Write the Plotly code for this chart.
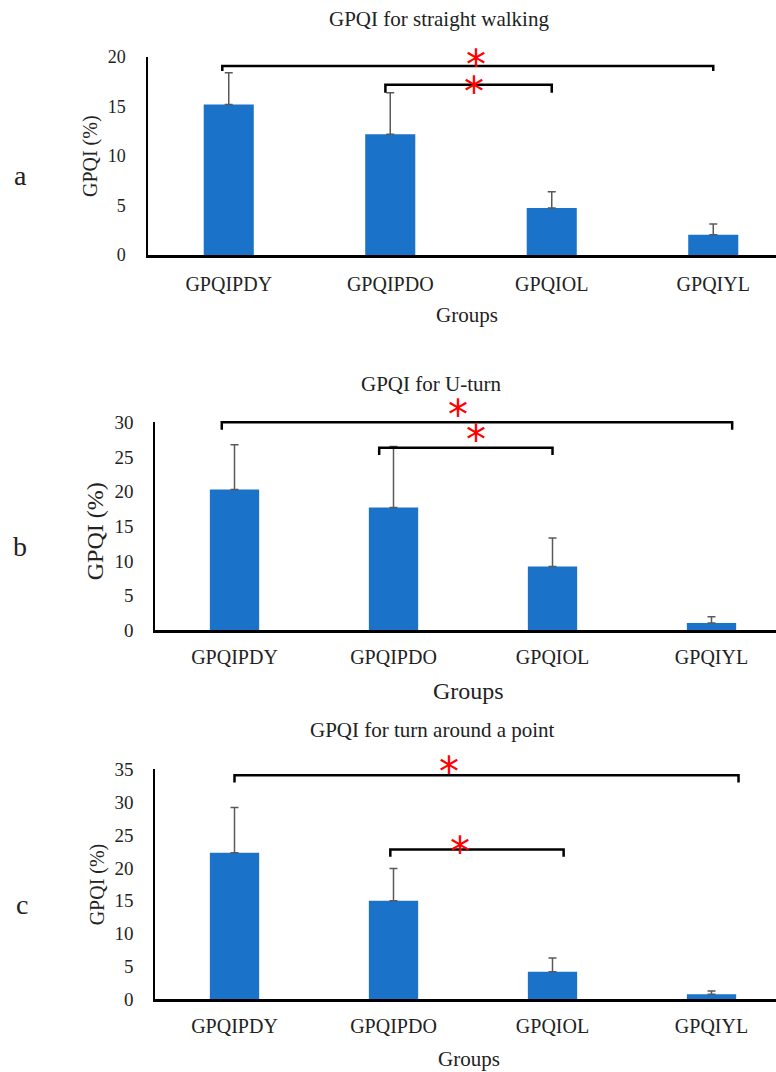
import plotly.graph_objects as go

categories = ["GPQIPDY", "GPQIPDO", "GPQIOL", "GPQIYL"]

a_mean = [15.2, 12.2, 4.75, 2.05]
a_top = [18.4, 16.4, 6.4, 3.15]
b_mean = [20.3, 17.7, 9.2, 1.05]
b_top = [26.75, 26.5, 13.3, 1.95]
c_mean = [22.3, 15.0, 4.2, 0.8]
c_top = [29.2, 19.9, 6.3, 1.27]

titles = ["GPQI for straight walking", "GPQI for U-turn", "GPQI for turn around a point"]
letters = ["a", "b", "c"]
y_max = [20, 30, 35]
y_dtick = [5, 5, 5]

# significance brackets: (x_start, x_end, y_level, y_tick_end) in data units
a_brackets = [(-0.04, 3.0, 19.1, 18.6), (0.97, 2.0, 17.2, 16.4)]
b_brackets = [(-0.08, 3.13, 30.0, 28.9), (0.91, 2.0, 26.3, 25.25)]
c_brackets = [(0.0, 3.17, 34.1, 33.0), (0.98, 2.07, 22.8, 21.7)]
# star annotation positions (x, y) in data units
a_stars = [(1.53, 20.0), (1.52, 17.3)]
b_stars = [(1.405, 32.2), (1.52, 28.6)]
c_stars = [(1.35, 35.8), (1.42, 23.6)]

W, H = 776, 1072
BAR = "#1a73c8"
ERR = "#595959"
SERIF = "Liberation Serif"
TXT = "#222222"


def vy(d):
    # page-pixel target -> figure pixel (compensates the vertical fit of the page)
    return (d - 11) / 0.98


panels = [
    dict(mean=a_mean, top=a_top, br=a_brackets, st=a_stars,
         px=(148, 161.5), py=(58, 256), title=(439, 20), letter=(20, 176),
         ytitle=(90, 157, 20), groups=(467, 316, 21), cat_sd=9, tick_sd=17,
         catfs=20, tfs=18),
    dict(mean=b_mean, top=b_top, br=b_brackets, st=b_stars,
         px=(155, 159), py=(423, 631), title=(431, 385), letter=(20, 547),
         ytitle=(95, 532, 24), groups=(469, 692, 24), cat_sd=7, tick_sd=16,
         catfs=20, tfs=19),
    dict(mean=c_mean, top=c_top, br=c_brackets, st=c_stars,
         px=(155, 159), py=(770, 1000), title=(432, 731), letter=(22, 905),
         ytitle=(97, 885, 20), groups=(469, 1060, 21), cat_sd=7, tick_sd=16,
         catfs=20, tfs=19),
]

fig = go.Figure()
layout = dict(width=W, height=H, margin=dict(l=0, r=0, t=0, b=0),
              plot_bgcolor="white", paper_bgcolor="white", showlegend=False,
              font=dict(family=SERIF, color=TXT))
annotations = []
shapes = []


def ann(text, x, y, size, family=SERIF, color=TXT, **kw):
    d = dict(text=text, xref="paper", yref="paper", x=x, y=y,
             xanchor="center", yanchor="middle", showarrow=False,
             font=dict(size=size, family=family, color=color))
    d.update(kw)
    return d


for i, p in enumerate(panels):
    k = "" if i == 0 else str(i + 1)
    xa, ya = "x" + k, "y" + k
    x0, step = p["px"]
    top_px, bot_px = vy(p["py"][0]), vy(p["py"][1])
    xr = [-0.5, -0.5 + (W - x0) / step]
    ydom = [1 - bot_px / H, 1 - top_px / H]
    xdom = [x0 / W, 1.0]

    def to_px(xv, xdom=xdom, xr=xr):
        return xdom[0] + (xv - xr[0]) / (xr[1] - xr[0]) * (xdom[1] - xdom[0])

    def to_py(yv, ydom=ydom, ymax=y_max[i]):
        return ydom[0] + yv / ymax * (ydom[1] - ydom[0])

    err_plus = [t - m for t, m in zip(p["top"], p["mean"])]
    fig.add_trace(go.Bar(
        x=list(range(len(categories))), y=p["mean"], width=0.31,
        marker=dict(color=BAR, line=dict(width=0)),
        error_y=dict(type="data", symmetric=False, array=err_plus,
                     arrayminus=[0] * 4, color=ERR, thickness=1.5, width=4),
        xaxis=xa, yaxis=ya))
    layout["xaxis" + k] = dict(
        domain=xdom, range=xr, anchor=ya,
        tickvals=list(range(len(categories))), ticktext=categories,
        showgrid=False, zeroline=False, showline=True, linecolor="black",
        linewidth=2.5, ticks="", ticklabelstandoff=p["cat_sd"],
        tickfont=dict(family=SERIF, size=p["catfs"], color=TXT))
    layout["yaxis" + k] = dict(
        domain=ydom, range=[0, y_max[i]],
        dtick=y_dtick[i], anchor=xa, showgrid=False, zeroline=False,
        showline=True, linecolor="black", linewidth=1.5, ticks="",
        ticklabelstandoff=p["tick_sd"],
        tickfont=dict(family=SERIF, size=p["tfs"], color=TXT))
    tx, ty = p["title"]
    annotations.append(ann(titles[i], tx / W, 1 - vy(ty) / H, 21))
    ytx, yty, yfs = p["ytitle"]
    annotations.append(ann("GPQI (%)", ytx / W, 1 - vy(yty) / H, yfs, textangle=-90))
    gx, gy, gfs = p["groups"]
    annotations.append(ann("Groups", gx / W, 1 - vy(gy) / H, gfs))
    lx, ly = p["letter"]
    annotations.append(ann(letters[i], lx / W, 1 - vy(ly) / H, 28))
    for (bx0, bx1, by, byt) in p["br"]:
        X0, X1, Y, YT = to_px(bx0), to_px(bx1), to_py(by), to_py(byt)
        shapes.append(dict(type="path", xref="paper", yref="paper",
                           path=f"M {X0},{YT} L {X0},{Y} L {X1},{Y} L {X1},{YT}",
                           line=dict(color="black", width=2.5)))
    for (sx, sy) in p["st"]:
        annotations.append(ann("*", to_px(sx), to_py(sy), 40,
                               family="DejaVu Sans", color="red", yshift=-8))

layout["annotations"] = annotations
layout["shapes"] = shapes
fig.update_layout(**layout)
fig.write_html("out.html", config={"displayModeBar": False},
               post_script="document.body.style.margin='0';document.body.style.overflow='hidden';")
